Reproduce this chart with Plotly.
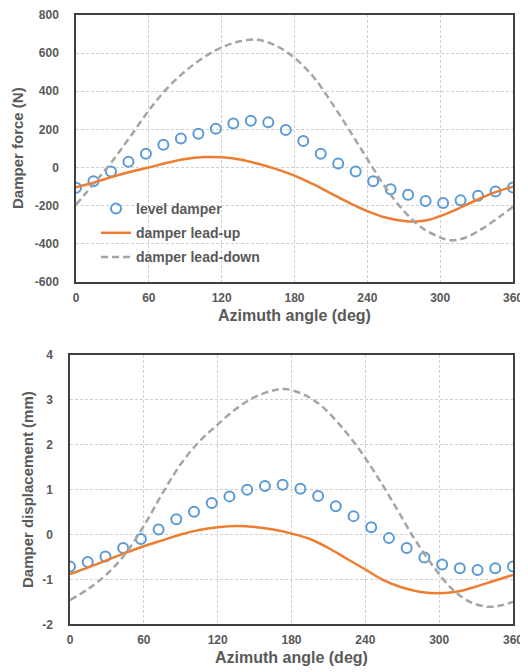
import plotly.graph_objects as go

# ---------------- data ----------------
level_x = [0, 14.4, 28.8, 43.2, 57.6, 72, 86.4, 100.8, 115.2, 129.6, 144, 158.4, 172.8,
           187.2, 201.6, 216, 230.4, 244.8, 259.2, 273.6, 288, 302.4, 316.8, 331.2, 345.6, 360]

# Damper force (N)
force_level = [-106, -72, -21, 30, 72, 120, 153, 177, 203, 231, 246, 237, 197,
               139, 72, 21, -20, -72, -114, -142, -175, -186, -172, -148, -125, -104]
force_up_x = [0, 15, 30, 45, 60, 75, 90, 105, 120, 135, 150, 165, 180, 195, 210, 225,
              240, 255, 270, 280, 290, 300, 315, 330, 345, 360]
force_up = [-103, -78, -48, -22, 0, 25, 45, 55, 54, 42, 20, -8, -42, -86, -135, -185,
            -228, -262, -280, -283, -275, -255, -215, -170, -130, -100]
force_down_x = [0, 15, 30, 45, 60, 75, 90, 105, 120, 135, 150, 165, 180, 195, 210,
                225, 240, 255, 270, 285, 300, 308, 320, 335, 350, 360]
force_down = [-195, -82, 35, 165, 300, 415, 505, 577, 630, 662, 670, 638, 575, 480, 346,
              198, 45, -105, -227, -316, -366, -381, -369, -319, -253, -205]

# Damper displacement (mm)
disp_level = [-0.71, -0.61, -0.49, -0.30, -0.10, 0.11, 0.34, 0.51, 0.70, 0.85, 1.00, 1.08, 1.11,
              1.02, 0.86, 0.63, 0.41, 0.16, -0.08, -0.30, -0.51, -0.67, -0.75, -0.79, -0.75, -0.71]
disp_up_x = [0, 15, 30, 45, 60, 75, 90, 105, 120, 135, 150, 165, 180, 195, 210, 225, 240,
             255, 270, 285, 300, 315, 330, 345, 360]
disp_up = [-0.88, -0.73, -0.57, -0.41, -0.26, -0.13, 0.00, 0.10, 0.16, 0.19, 0.17, 0.11, 0.02,
           -0.10, -0.30, -0.54, -0.78, -1.02, -1.18, -1.28, -1.31, -1.27, -1.16, -1.03, -0.90]
disp_down_x = [0, 15, 30, 45, 60, 75, 90, 105, 120, 135, 150, 165, 175, 190, 205, 220, 235,
               250, 265, 280, 295, 310, 325, 340, 350, 360]
disp_down = [-1.46, -1.21, -0.88, -0.43, 0.19, 0.91, 1.57, 2.07, 2.45, 2.80, 3.06, 3.21, 3.24,
             3.12, 2.85, 2.42, 1.90, 1.28, 0.60, -0.10, -0.70, -1.20, -1.50, -1.61, -1.58, -1.50]

x_ticks = [0, 60, 120, 180, 240, 300, 360]
force_ticks = [-600, -400, -200, 0, 200, 400, 600, 800]
disp_ticks = [-2, -1, 0, 1, 2, 3, 4]

names = ["level damper", "damper lead-up", "damper lead-down"]

# ---------------- style ----------------
# the page body has an 8px default margin, so the figure is 8px smaller
# and page coordinates are converted to paper fractions with that offset
OFF = 8
W, H = 520, 664


def px(x):
    return (x - OFF) / W


def py(y):
    return 1 - (y - OFF) / H


BLUE = "#5B9BD5"
ORANGE = "#ED7D31"
GREY = "#A5A5A5"
TXT = "#595959"
FONT = "Liberation Sans"

fig = go.Figure()


def add_set(xl, yl, xu, yu, xd, yd, xa, ya, show):
    fig.add_trace(go.Scatter(x=xl, y=yl, mode="markers", name=names[0], legendgroup="a",
                             marker=dict(symbol="circle-open", size=10, color=BLUE,
                                         line=dict(width=2, color=BLUE)),
                             xaxis=xa, yaxis=ya, showlegend=show))
    fig.add_trace(go.Scatter(x=xu, y=yu, mode="lines", name=names[1], legendgroup="b",
                             line=dict(color=ORANGE, width=2.5, shape="spline"),
                             xaxis=xa, yaxis=ya, showlegend=show))
    fig.add_trace(go.Scatter(x=xd, y=yd, mode="lines", name=names[2], legendgroup="c",
                             line=dict(color=GREY, width=2.5, dash="7px,4px", shape="spline"),
                             xaxis=xa, yaxis=ya, showlegend=show))


add_set(level_x, force_level, force_up_x, force_up, force_down_x, force_down, "x", "y", True)
add_set(level_x, disp_level, disp_up_x, disp_up, disp_down_x, disp_down, "x2", "y2", False)

axis_common = dict(showline=True, mirror=True, linecolor="#404040", linewidth=1.5,
                   showgrid=True, gridcolor="#D0D0D0", griddash="3px,2px", gridwidth=1,
                   zeroline=False, ticks="",
                   tickfont=dict(family=FONT, size=12, color=TXT, weight="bold"))

fig.update_layout(
    width=W, height=H, margin=dict(l=0, r=0, t=0, b=0, autoexpand=False),
    paper_bgcolor="white", plot_bgcolor="white",
    showlegend=True,
    legend=dict(x=px(96), y=py(193), xanchor="left", yanchor="top",
                bgcolor="rgba(0,0,0,0)", tracegroupgap=3,
                font=dict(family=FONT, size=14, color=TXT, weight="bold")),
    xaxis=dict(domain=[px(76), px(513)], range=[0, 360], tickvals=x_ticks,
               ticktext=[str(v) for v in x_ticks],
               ticklabelstandoff=4, anchor="y", **axis_common),
    yaxis=dict(domain=[py(282), py(15)], range=[-600, 800], tickvals=force_ticks,
               ticktext=[str(v) for v in force_ticks],
               ticklabelstandoff=13, anchor="x", **axis_common),
    xaxis2=dict(domain=[px(70), px(513)], range=[0, 360], tickvals=x_ticks,
                ticktext=[str(v) for v in x_ticks],
                ticklabelstandoff=4, anchor="y2", **axis_common),
    yaxis2=dict(domain=[py(624.3), py(355)], range=[-2, 4], tickvals=disp_ticks,
                ticktext=[str(v) for v in disp_ticks],
                ticklabelstandoff=13, anchor="x2", **axis_common),
)

title_font = dict(family=FONT, size=16, color=TXT, weight="bold")
ytitle_font = dict(family=FONT, size=15, color=TXT, weight="bold")
fig.add_annotation(text="Azimuth angle (deg)", xref="paper", yref="paper",
                   x=px(294.5), y=py(315), xanchor="center", yanchor="middle",
                   showarrow=False, font=title_font)
fig.add_annotation(text="Azimuth angle (deg)", xref="paper", yref="paper",
                   x=px(291.5), y=py(657), xanchor="center", yanchor="middle",
                   showarrow=False, font=title_font)
fig.add_annotation(text="Damper force (N)", xref="paper", yref="paper",
                   x=px(18), y=py(148), xanchor="center", yanchor="middle",
                   textangle=-90, showarrow=False, font=ytitle_font)
fig.add_annotation(text="Damper displacement (mm)", xref="paper", yref="paper",
                   x=px(27), y=py(490), xanchor="center", yanchor="middle",
                   textangle=-90, showarrow=False, font=ytitle_font)

fig.write_html("out.html")
